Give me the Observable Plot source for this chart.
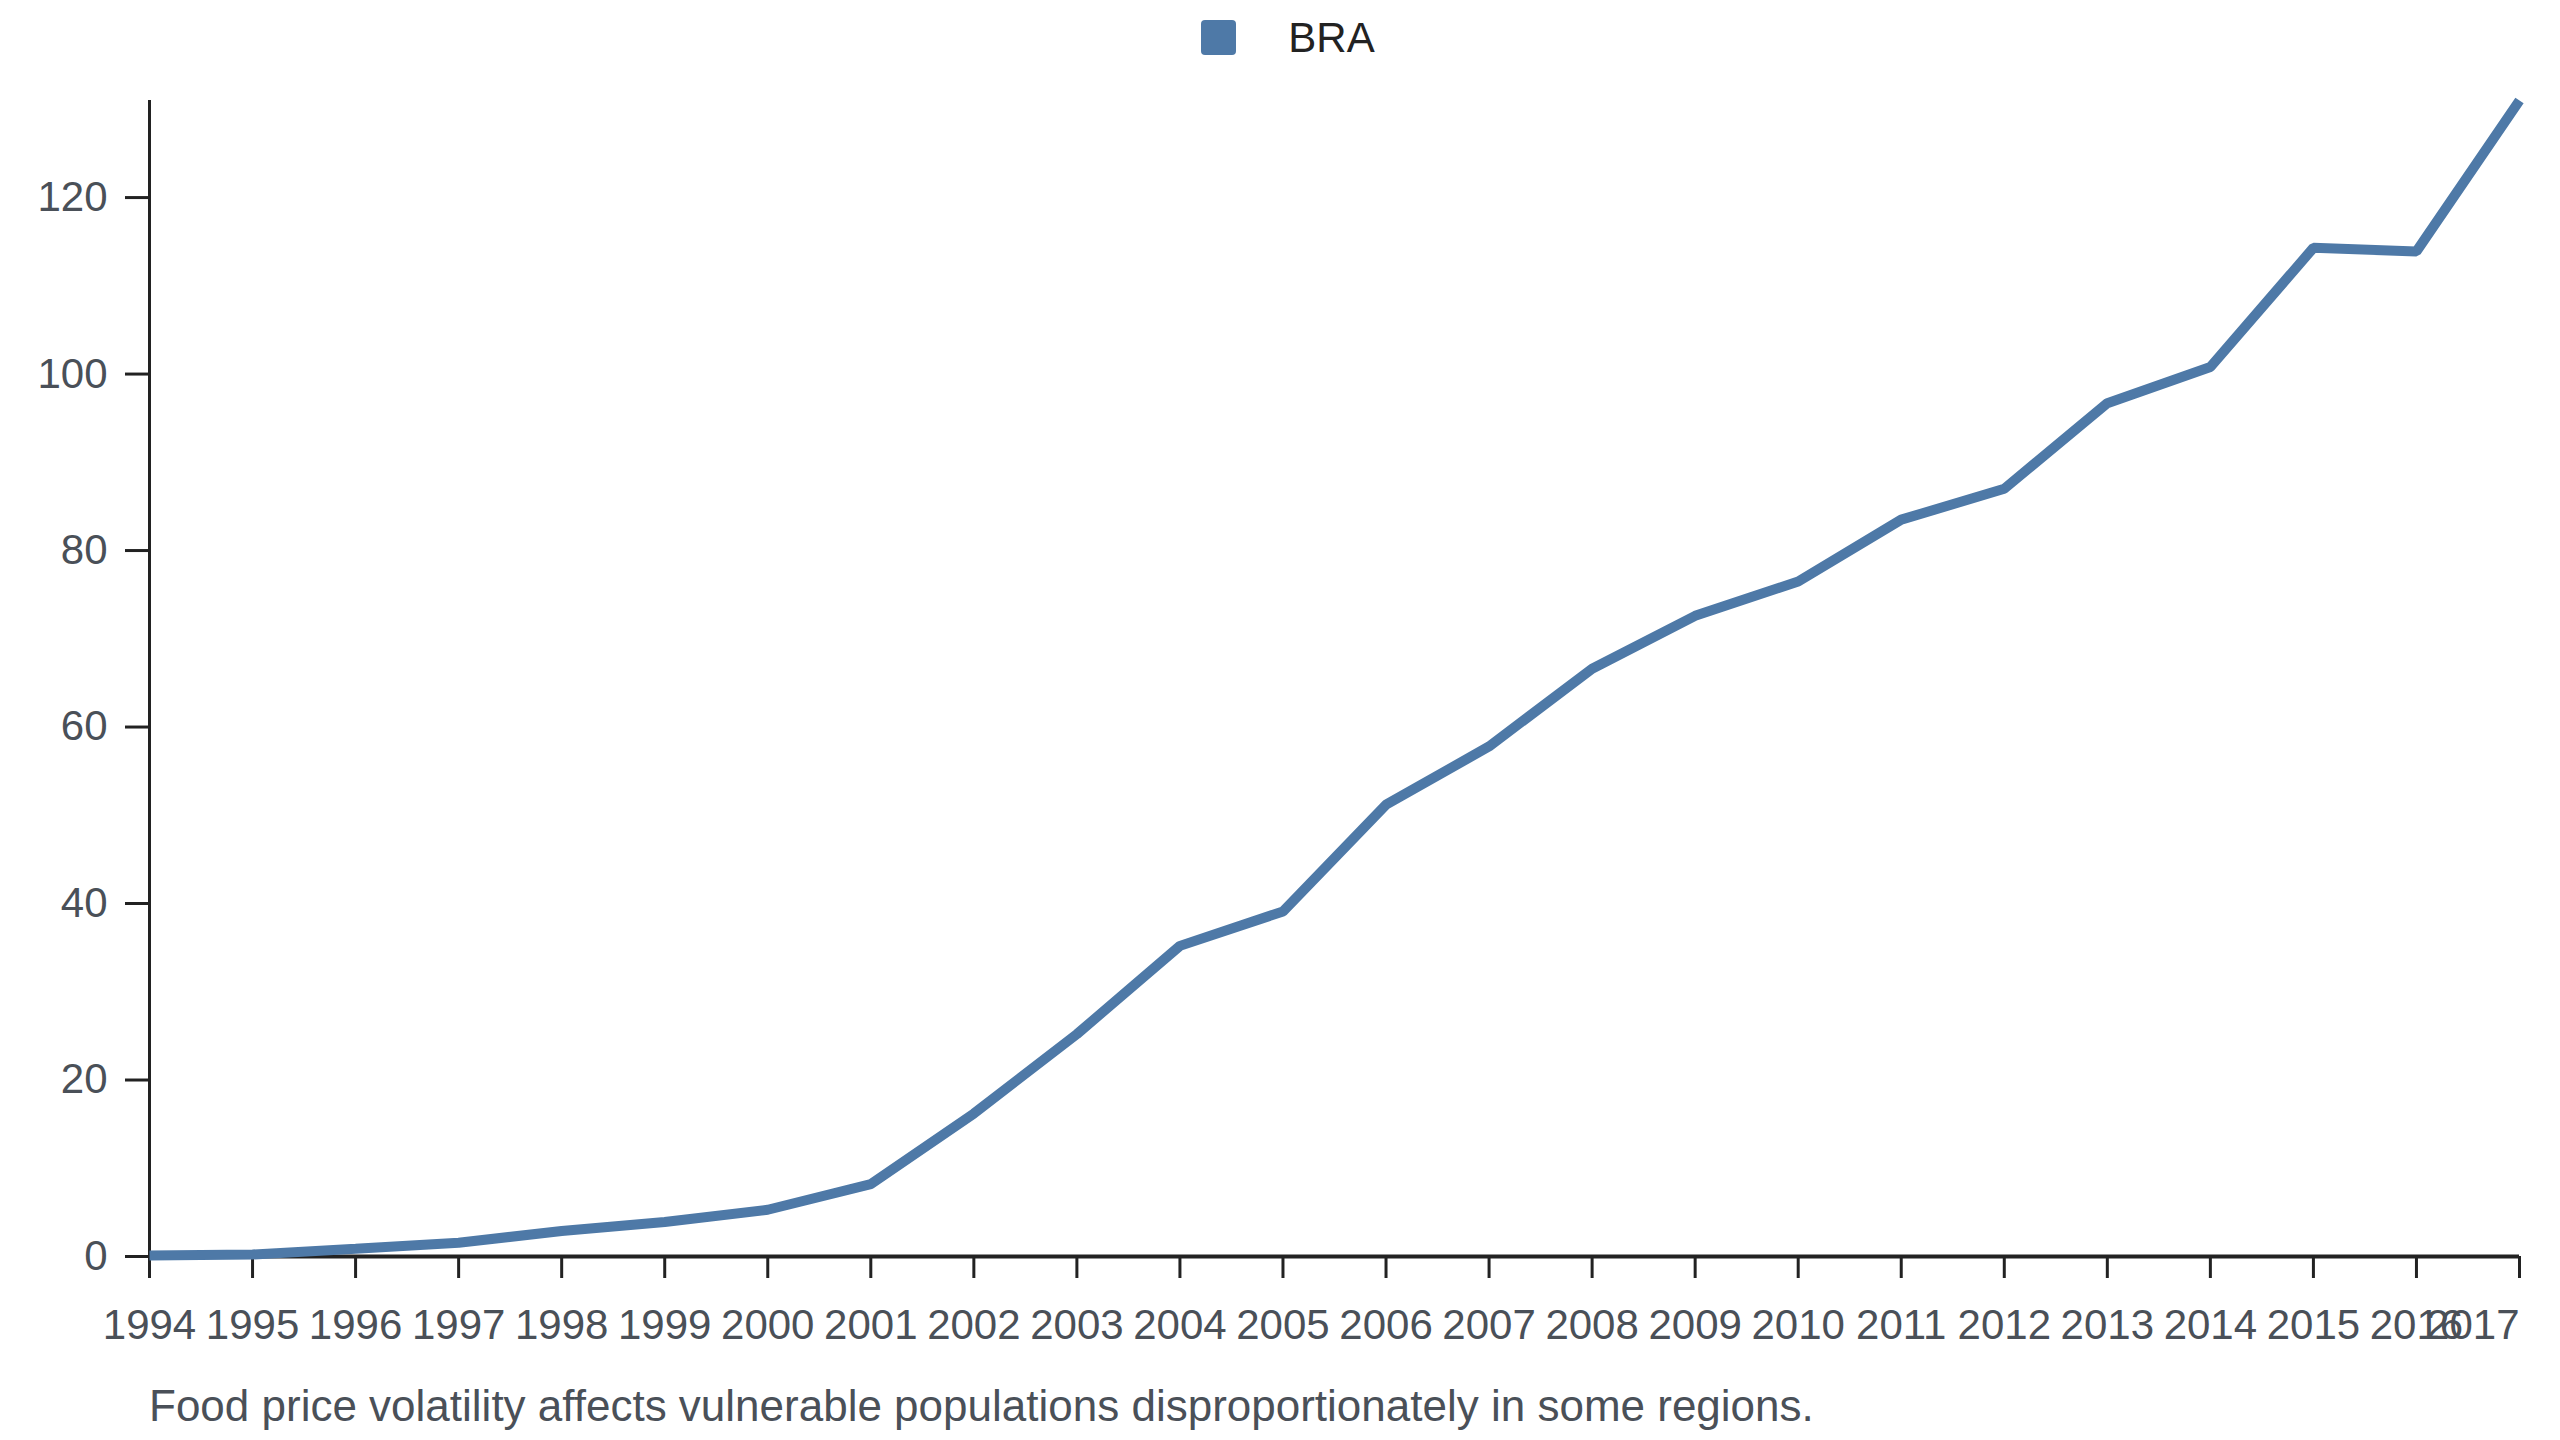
<!DOCTYPE html>
<html>
<head>
<meta charset="utf-8">
<script src="https://cdn.jsdelivr.net/npm/d3@7"></script>
<script src="https://cdn.jsdelivr.net/npm/@observablehq/plot@0.6"></script>
<style>
  html, body { margin: 0; padding: 0; background: #fff; }
  body { width: 2560px; height: 1440px; overflow: hidden; font-family: "Liberation Sans", Arial, sans-serif; }
  #legend { height: 75px; display: flex; justify-content: center; align-items: center; padding-left: 16px; box-sizing: border-box; }
  #legend .sw { width: 35px; height: 35px; border-radius: 4px; background: #4e79a7; margin-right: 52px; }
  #legend .lb { font-size: 42px; color: #222; line-height: 1; }
  #chart svg { display: block; }
  #caption { margin-top: 19px; padding-left: 149px; font-size: 44px; line-height: 1; color: #4a5058; }
</style>
</head>
<body>
<div id="legend"></div>
<div id="chart"></div>
<div id="caption"></div>
<script>
const years = [1994,1995,1996,1997,1998,1999,2000,2001,2002,2003,2004,2005,2006,2007,2008,2009,2010,2011,2012,2013,2014,2015,2016,2017];
const values = [0.1,0.23,0.87,1.55,2.9,3.9,5.3,8.2,16.2,25.2,35.2,39.1,51.2,57.8,66.6,72.6,76.5,83.5,87.0,96.7,100.8,114.3,113.9,131.0];
const yTicks = [0,20,40,60,80,100,120];
const seriesName = "BRA";
const seriesColor = "#4e79a7";
const captionText = "Food price volatility affects vulnerable populations disproportionately in some regions.";

const data = years.map((y, i) => ({year: y, value: values[i]}));
const yMax = d3.max(values);

document.getElementById("legend").innerHTML =
  `<div class="sw"></div><div class="lb">${seriesName}</div>`;
document.getElementById("caption").textContent = captionText;

const axisCommon = {stroke: "#222", fill: "#4a5058", fontSize: 42, label: null, tickFormat: d => String(d)};

const chart = Plot.plot({
  width: 2560,
  height: 1290,
  marginLeft: 149,
  marginRight: 41,
  marginTop: 25,
  marginBottom: 109,
  x: {domain: [years[0], years[years.length - 1]]},
  y: {domain: [0, yMax]},
  style: {fontFamily: "Liberation Sans, Arial, sans-serif", fontSize: "42px", background: "white", overflow: "visible"},
  marks: [
    Plot.axisY(yTicks, {...axisCommon, tickSize: 24, tickPadding: 18, strokeWidth: 3}),
    Plot.axisX(years.slice(0, -1), {...axisCommon, tickSize: 22, tickPadding: 31, strokeWidth: 3}),
    Plot.axisX(years.slice(-1), {...axisCommon, tickSize: 22, tickPadding: 31, strokeWidth: 3, textAnchor: "end"}),
    Plot.ruleX([years[0]], {y1: 0, y2: yMax, stroke: "#222", strokeWidth: 3}),
    Plot.ruleY([0], {stroke: "#222", strokeWidth: 4}),
    Plot.line(data, {x: "year", y: "value", stroke: seriesColor, strokeWidth: 10, strokeLinecap: "butt", strokeLinejoin: "miter"})
  ]
});
document.getElementById("chart").appendChild(chart);
</script>
</body>
</html>
